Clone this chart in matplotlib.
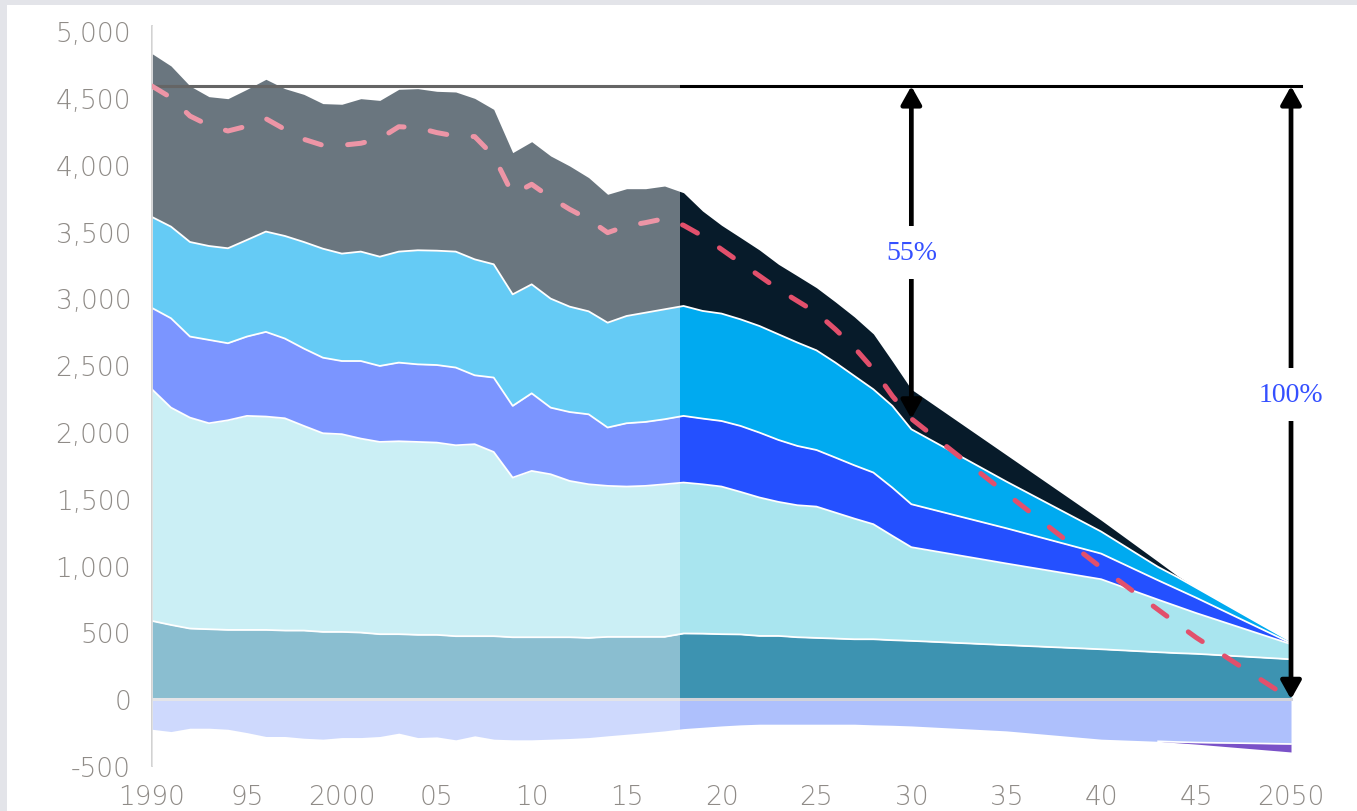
import matplotlib
matplotlib.use("Agg")
import matplotlib.pyplot as plt
from matplotlib.patches import FancyArrowPatch, Rectangle
from matplotlib.ticker import FuncFormatter

# annees : historique 1990-2018, projection jusqu'a 2050
years = list(range(1990, 2031)) + [2035, 2040, 2043, 2044, 2045, 2050]

# limites superieures (cumulees) de chaque couche
teal_top = [586, 556, 529, 524, 519, 519, 519, 514, 514, 504, 504, 499, 487, 487, 482,
            482, 472, 472, 472, 464, 464, 464, 464, 459, 467, 467, 467, 467, 492,
            491, 487, 485, 474, 474, 464, 459, 454, 449, 449, 442, 437,
            405, 374, 352, 345, 340, 299]
cyan_top = [2320, 2183, 2108, 2066, 2088, 2121, 2116, 2103, 2046, 1991, 1984, 1951, 1926, 1931, 1926,
            1921, 1901, 1909, 1851, 1659, 1709, 1684, 1634, 1609, 1597, 1592, 1597, 1609, 1622,
            1609, 1592, 1552, 1510, 1477, 1452, 1442, 1397, 1352, 1310, 1223, 1138,
            1016, 898, 745, 695, 645, 412]
blue_top = [2929, 2852, 2715, 2690, 2665, 2715, 2750, 2700, 2625, 2557, 2532, 2532, 2495, 2520, 2507,
            2502, 2483, 2425, 2408, 2196, 2290, 2183, 2150, 2133, 2034, 2066, 2076, 2096, 2121,
            2101, 2083, 2046, 1996, 1941, 1896, 1866, 1809, 1751, 1697, 1584, 1460,
            1280, 1090, 890, 825, 760, 420]
sky_top = [3610, 3538, 3423, 3393, 3376, 3438, 3501, 3468, 3423, 3373, 3336, 3351, 3313, 3351, 3361,
           3358, 3351, 3293, 3256, 3031, 3106, 2999, 2939, 2904, 2819, 2869, 2894, 2919, 2944,
           2907, 2887, 2844, 2794, 2732, 2670, 2612, 2520, 2420, 2320, 2196, 2021,
           1630, 1255, 990, 915, 835, 432]
total_top = [4833, 4741, 4591, 4511, 4496, 4566, 4641, 4571, 4528, 4459, 4454, 4496, 4483, 4566, 4571,
             4551, 4546, 4498, 4416, 4092, 4174, 4067, 3992, 3905, 3780, 3822, 3822, 3842, 3792,
             3655, 3548, 3456, 3363, 3256, 3169, 3081, 2974, 2862, 2735, 2530, 2320,
             1830, 1340, 1030, 925, 835, 432]
# absorptions (negatives)
removals = [-225, -242, -217, -217, -225, -250, -279, -279, -292, -299, -287, -287, -279, -254, -287,
            -282, -304, -274, -299, -304, -304, -299, -294, -287, -274, -262, -250, -237, -220,
            -210, -200, -192, -187, -187, -187, -187, -187, -187, -192, -195, -200,
            -237, -299, -315, -320, -324, -335]
purple_extra = [0] * 41 + [0, 0, 0, -6, -12, -60]
# emissions nettes (ligne pointillee)
net = [4590, 4504, 4366, 4296, 4254, 4290, 4346, 4266, 4192, 4147, 4147, 4162, 4197, 4286, 4279,
       4242, 4216, 4212, 4067, 3780, 3855, 3755, 3668, 3593, 3493, 3543, 3568, 3598, 3548,
       3468, 3368, 3268, 3169, 3069, 2981, 2894, 2769, 2632, 2470, 2270, 2100,
       1540, 985, 670, 565, 462, 0]

baseline = 4590
cut_year = 2017.8
labels_pct = ["55%", "100%"]
arrow_years = [2030, 2050]
label_y = [3346, 2283]

c_teal = "#3d93b1"
c_cyan = "#a9e5ef"
c_blue = "#2450ff"
c_sky = "#00aaf0"
c_dark = "#071b2a"
c_lav = "#aec0fc"
c_purple = "#7a52c8"
tick_color = "#8f8b87"

fig = plt.figure(figsize=(13.57, 8.12), dpi=100)
fig.patch.set_facecolor("#e3e4e9")
fig.patches.append(Rectangle((7 / 1357, 0), 1, (812 - 6) / 812, transform=fig.transFigure,
                             facecolor="white", edgecolor="none", zorder=-5))

ax = fig.add_axes([152 / 1357, 45 / 812, 1158 / 1357, 740 / 812])
ax.set_facecolor("none")
ax.set_zorder(1)

lower = [0] * len(years)
layers = [(lower, teal_top, c_teal), (teal_top, cyan_top, c_cyan), (cyan_top, blue_top, c_blue),
          (blue_top, sky_top, c_sky), (sky_top, total_top, c_dark)]
for bot, top, col in layers:
    ax.fill_between(years, bot, top, color=col, lw=0, zorder=1)
for top in [teal_top, cyan_top, blue_top, sky_top]:
    ax.plot(years, top, color="white", lw=1.3, zorder=2)

purple_low = [r + p for r, p in zip(removals, purple_extra)]
ax.fill_between(years, 0, removals, color=c_lav, lw=0, zorder=1)
ax.fill_between(years, removals, purple_low, color=c_purple, lw=0, zorder=1)
ax.plot(years[-4:], removals[-4:], color="white", lw=1.2, zorder=2)

ax.plot([1990, 2050], [0, 0], color="#d2d3d9", lw=2.2, zorder=2)
ax.plot([1990, 2050.55], [baseline, baseline], color="black", lw=2.2, zorder=3)
ax.plot(years, net, color="#e2506c", lw=3.6, linestyle=(0, (3.4, 5.3)),
        dash_capstyle="round", zorder=4)

# voile blanc sur la partie historique
ax.axvspan(1990, cut_year, color="white", alpha=0.4, lw=0, zorder=5)

for yr, lab, ly in zip(arrow_years, labels_pct, label_y):
    tip = net[years.index(yr)]
    arr = FancyArrowPatch((yr, baseline), (yr, tip), arrowstyle="<|-|>,head_length=0.5,head_width=0.28",
                          mutation_scale=22, color="black", lw=3.4, shrinkA=0, shrinkB=0, zorder=6)
    ax.add_patch(arr)
    ax.text(yr, ly, lab, ha="center", va="center", color="#3550ff", fontsize=20,
            family="Liberation Serif", zorder=7,
            bbox=dict(facecolor="white", edgecolor="none", pad=10))

ax.set_xlim(1990, 2051)
ax.set_ylim(-500, 5040)
ax.set_yticks(range(-500, 5001, 500))
ax.yaxis.set_major_formatter(FuncFormatter(lambda v, p: f"{int(v):,}"))
ax.set_xticks(range(1990, 2051, 5))
ax.set_xticklabels(["1990", "95", "2000", "05", "10", "15", "20", "25", "30", "35", "40", "45", "2050"])
ax.tick_params(length=0, labelsize=19, labelcolor=tick_color)
ax.tick_params(axis="y", pad=15)
ax.tick_params(axis="x", pad=13)
for lab in ax.get_xticklabels() + ax.get_yticklabels():
    lab.set_fontweight("light")

for side in ["top", "right", "bottom"]:
    ax.spines[side].set_visible(False)
ax.spines["left"].set_color("#c9c9c9")
ax.spines["left"].set_linewidth(1.2)

fig.savefig("out.png", dpi=100, facecolor=fig.get_facecolor())
